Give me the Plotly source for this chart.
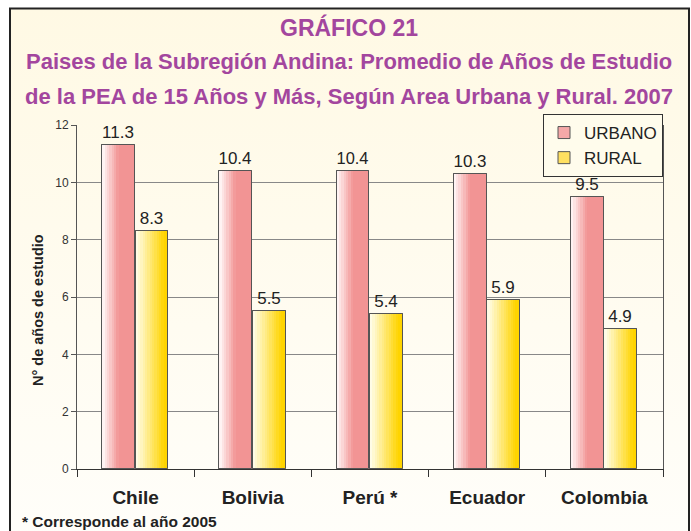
import base64
import plotly.graph_objects as go

# ---- data ----
categories = ["Chile", "Bolivia", "Perú *", "Ecuador", "Colombia"]
urbano = [11.3, 10.4, 10.4, 10.3, 9.5]
rural = [8.3, 5.5, 5.4, 5.9, 4.9]
y_ticks = [0, 2, 4, 6, 8, 10, 12]

title_1 = "GRÁFICO 21"
title_2 = "Paises de la Subregión Andina: Promedio de Años de Estudio"
title_3 = "de la PEA de 15 Años y Más, Según Area Urbana y Rural. 2007"
y_title = "N° de años de estudio"
footnote = "* Corresponde al año 2005"

# ---- geometry (page pixels) ----
W, H = 691, 531
PL, PR, PT, PB = 77, 663, 125, 469          # plot area
pw, ph = PR - PL, PB - PT


def px(x):
    return (x - PL) / pw


def py(y):
    return (PB - y) / ph


def hexrgb(h):
    h = h.lstrip("#")
    return tuple(int(h[i:i + 2], 16) for i in (0, 2, 4))


def mix(c1, c2, t):
    a, b = hexrgb(c1), hexrgb(c2)
    return "rgb(%d,%d,%d)" % tuple(round(a[i] + (b[i] - a[i]) * t) for i in range(3))


BAR_W = 0.28
N = 14
fig = go.Figure()

series = [
    ("URBANO", urbano, -0.285, "#FFF3F3", "#F29494", 0.5, "#F5A8A8"),
    ("RURAL", rural, 0.0, "#FFFCE6", "#FFD400", 0.9, "#FFE060"),
]

for name, vals, off, c_left, c_right, reach, legend_col in series:
    fig.add_trace(go.Bar(
        x=categories, y=vals, name=name, offset=off, width=BAR_W,
        marker=dict(color=legend_col, line=dict(color="#555555", width=1)),
        showlegend=True, hoverinfo="skip",
    ))
    for i in range(N):
        t = min(1.0, (i / (N - 1)) / reach)
        step = BAR_W / N
        fig.add_trace(go.Bar(
            x=categories, y=vals, offset=off + i * step, width=BAR_W - i * step,
            marker=dict(color=mix(c_left, c_right, t), line=dict(width=0)),
            showlegend=False, hoverinfo="skip",
        ))
    fig.add_trace(go.Bar(
        x=categories, y=vals, offset=off, width=BAR_W,
        marker=dict(color="rgba(0,0,0,0)", line=dict(color="#555555", width=1)),
        text=[f"{v:.1f}" for v in vals], textposition="outside",
        textfont=dict(family="Liberation Sans, Arial, sans-serif", size=17, color="#222222"),
        cliponaxis=False, showlegend=False, name=name,
    ))

svg = (
    '<svg xmlns="http://www.w3.org/2000/svg" width="100" height="100" preserveAspectRatio="none">'
    '<defs><linearGradient id="g" x1="0" y1="0" x2="0" y2="1">'
    '<stop offset="0" stop-color="#FFF9E4"/><stop offset="1" stop-color="#FFFEFA"/>'
    '</linearGradient></defs><rect width="100" height="100" fill="url(#g)"/></svg>'
)
src = "data:image/svg+xml;base64," + base64.b64encode(svg.encode()).decode()

fig.add_layout_image(dict(
    source=src, xref="paper", yref="paper", x=px(10), y=py(8),
    sizex=(689 - 10) / pw, sizey=(545 - 8) / ph, sizing="stretch",
    xanchor="left", yanchor="top", layer="below",
))

fig.add_shape(type="rect", xref="paper", yref="paper",
              x0=px(10), x1=px(689), y0=py(560), y1=py(8.5),
              line=dict(color="#222222", width=2), fillcolor="rgba(0,0,0,0)", layer="above")

for txt, yy, sz in [(title_1, 28, 23), (title_2, 62, 22), (title_3, 96, 22)]:
    fig.add_annotation(text="<b>%s</b>" % txt, xref="paper", yref="paper",
                       x=px(349), y=py(yy), xanchor="center", yanchor="middle",
                       showarrow=False,
                       font=dict(family="Liberation Sans, Arial, sans-serif", size=sz,
                                 color="#A3469E"))

fig.add_annotation(text="<b>%s</b>" % y_title, xref="paper", yref="paper",
                   x=px(38), y=py(310), textangle=-90, xanchor="center", yanchor="middle",
                   showarrow=False,
                   font=dict(family="Liberation Sans, Arial, sans-serif", size=14.5, color="#222222"))

fig.add_annotation(text="<b>%s</b>" % footnote, xref="paper", yref="paper",
                   x=px(20), y=py(521), xanchor="left", yanchor="middle", showarrow=False,
                   font=dict(family="Liberation Sans, Arial, sans-serif", size=15.5, color="#222222"))

fig.update_layout(
    width=W, height=H,
    margin=dict(l=PL, r=W - PR, t=PT, b=H - PB),
    paper_bgcolor="white", plot_bgcolor="rgba(0,0,0,0)",
    barmode="overlay", bargap=0,
    showlegend=True,
    legend=dict(x=1, xanchor="right", y=py(114), yanchor="top",
                bgcolor="rgba(255,252,236,1)", bordercolor="#333333", borderwidth=1,
                font=dict(family="Liberation Sans, Arial, sans-serif", size=17, color="#222222"),
                tracegroupgap=0, itemwidth=30),
    xaxis=dict(type="category", showgrid=False, showline=True, linecolor="#333333",
               ticks="outside", tickson="boundaries", ticklen=7, tickcolor="#333333",
               tickfont=dict(family="Liberation Sans, Arial, sans-serif", size=19,
                             color="#222222", weight="bold"),
               ticklabelstandoff=11, range=[-0.5, 4.5]),
    yaxis=dict(range=[0, 12], tickvals=y_ticks, showgrid=True, gridcolor="#888888", gridwidth=1,
               showline=True, linecolor="#555555", mirror=True, zeroline=False,
               ticks="outside", ticklen=5, tickcolor="#555555",
               tickfont=dict(family="Liberation Sans, Arial, sans-serif", size=12, color="#333333")),
    font=dict(family="Liberation Sans, Arial, sans-serif"),
)

fig.write_html(
    "out.html",
    config={"displayModeBar": False},
    post_script="document.body.style.margin='0';document.body.style.overflow='hidden';",
)
